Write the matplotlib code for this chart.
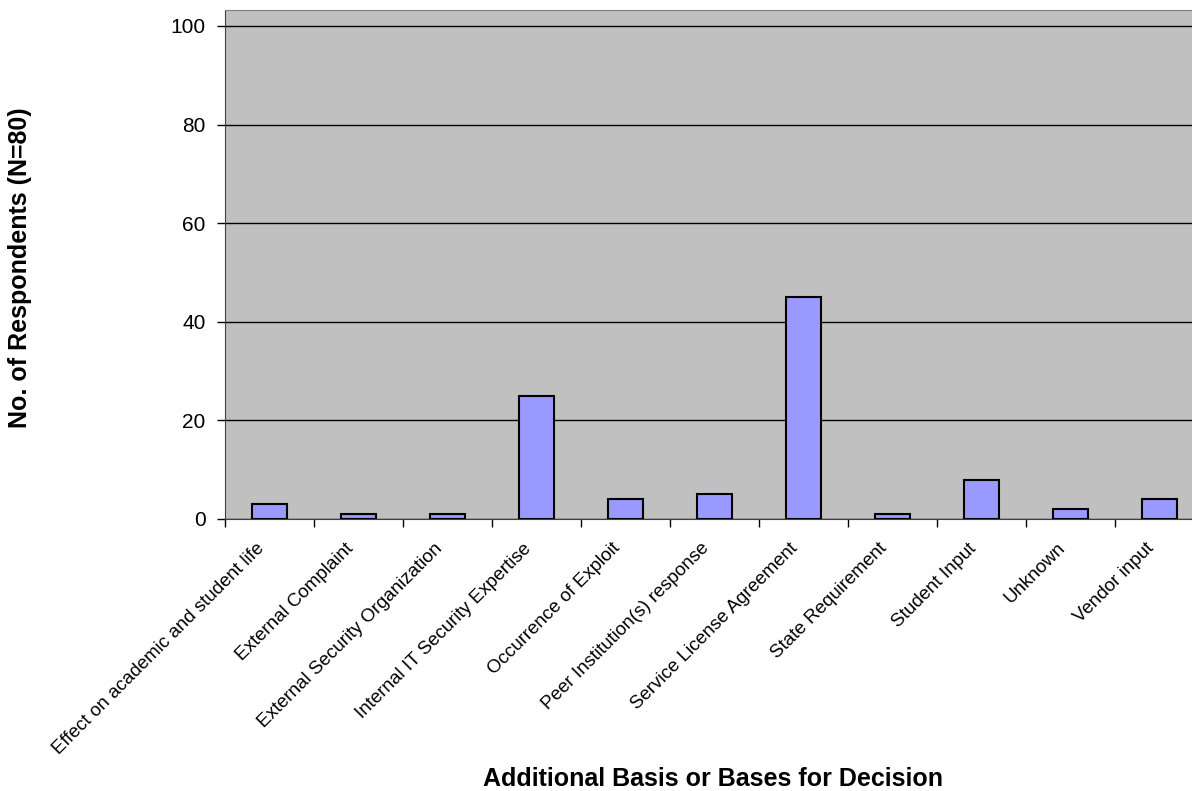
import matplotlib
matplotlib.use("Agg")
import matplotlib.pyplot as plt
from matplotlib.transforms import ScaledTranslation

plt.rcParams["font.family"] = ["Liberation Sans", "DejaVu Sans"]

categories = [
    "Effect on academic and student life",
    "External Complaint",
    "External Security Organization",
    "Internal IT Security Expertise",
    "Occurrence of Exploit",
    "Peer Institution(s) response",
    "Service License Agreement",
    "State Requirement",
    "Student Input",
    "Unknown",
    "Vendor input",
]
counts = [3, 1, 1, 25, 4, 5, 45, 1, 8, 2, 4]
y_ticks = [0, 20, 40, 60, 80, 100]

fig = plt.figure(figsize=(11.92, 7.91), dpi=100)
# plot area runs a little past the right edge of the picture, as in the original
ax = fig.add_axes([0.1888, 0.3439, 0.8213, 0.6435])
ax.set_facecolor("#C0C0C0")

x = list(range(len(categories)))
ax.bar(x, counts, width=0.40, color="#9999FF", edgecolor="black", linewidth=1.5, zorder=3)

ax.set_xlim(-0.5, len(categories) - 0.5)
ax.set_ylim(0, 103.25)
ax.set_yticks(y_ticks)
ax.tick_params(axis="y", labelsize=15, length=6, width=1, direction="out", pad=8)
ax.yaxis.grid(True, color="black", linewidth=1, zorder=1)

ax.set_xticks(x)
ax.set_xticklabels(categories, rotation=45, ha="right", va="top",
                   rotation_mode="anchor", fontsize=13.5)
ax.set_xticks([i + 0.5 for i in x] + [-0.5], minor=True)
ax.tick_params(axis="x", which="major", length=0, pad=15)
ax.tick_params(axis="x", which="minor", length=6, width=1, direction="out")

shift = ScaledTranslation(-0.14, 0, fig.dpi_scale_trans)
for lab in ax.get_xticklabels():
    lab.set_transform(lab.get_transform() + shift)

ax.spines["right"].set_visible(False)
ax.spines["top"].set_color("#808080")
ax.spines["left"].set_color("#404040")
ax.spines["bottom"].set_color("#404040")

ax.set_ylabel("No. of Respondents (N=80)", fontsize=18, fontweight="bold")
ax.yaxis.set_label_coords(-0.197, 0.493)
ax.set_xlabel("Additional Basis or Bases for Decision", fontsize=18, fontweight="bold")
ax.xaxis.set_label_coords(0.498, -0.488)

plt.savefig("out.png", dpi=100)
plt.close()
